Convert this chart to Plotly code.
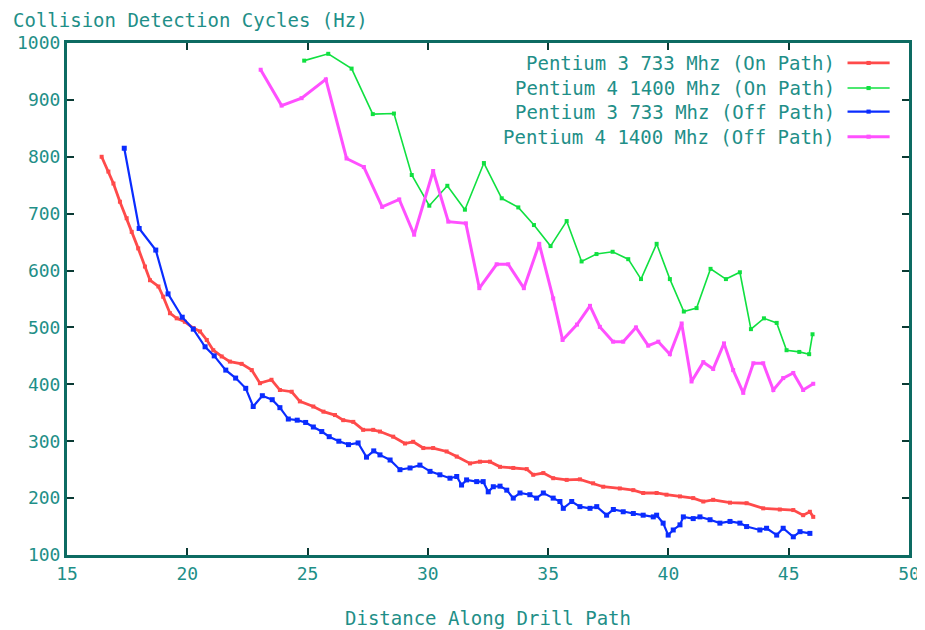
import plotly.graph_objects as go

# ---------------- data ----------------
p3_on_x = [16.44, 16.72, 16.93, 17.2, 17.48, 17.69, 17.96, 18.24, 18.45, 18.8, 19.0, 19.28, 19.56, 19.9,
           20.25, 20.53, 20.81, 21.08, 21.43, 21.77, 22.26, 22.68, 23.02, 23.5, 23.85, 24.34, 24.68,
           25.24, 25.66, 26.14, 26.48, 26.9, 27.31, 27.73, 28.01, 28.56, 29.05, 29.39, 29.81, 30.22,
           30.78, 31.2, 31.75, 32.17, 32.58, 33.0, 33.55, 34.11, 34.38, 34.8, 35.21, 35.77, 36.32,
           36.87, 37.29, 37.98, 38.54, 38.95, 39.51, 39.92, 40.48, 41.03, 41.45, 41.86, 42.56, 43.25,
           43.94, 44.63, 45.19, 45.6, 45.88, 46.02]
p3_on_y = [800, 774, 753, 721, 692, 668, 639, 607, 583, 572, 554, 525, 516, 510,
           499, 493, 478, 460, 449, 440, 436, 425, 402, 408, 390, 387, 370,
           361, 352, 346, 337, 334, 320, 320, 317, 308, 296, 299, 288, 288,
           282, 273, 261, 264, 264, 255, 253, 251, 241, 244, 235, 232, 233,
           226, 220, 217, 214, 209, 209, 206, 203, 200, 194, 197, 192, 191,
           182, 180, 179, 170, 176, 167]

p4_on_x = [24.86, 25.86, 26.83, 27.71, 28.59, 29.33, 30.06, 30.81, 31.54, 32.33, 33.07, 33.76, 34.41,
           35.1, 35.77, 36.39, 37.01, 37.68, 38.33, 38.86, 39.51, 40.06, 40.64, 41.17, 41.75, 42.39,
           42.97, 43.43, 43.97, 44.5, 44.91, 45.44, 45.85, 45.99]
p4_on_y = [969, 981, 955, 875, 876, 768, 714, 749, 707, 789, 727, 711, 680,
           643, 687, 616, 629, 633, 620, 585, 647, 585, 528, 534, 603, 585,
           597, 497, 516, 508, 460, 457, 453, 488]

p3_off_x = [17.38, 18.0, 18.69, 19.2, 19.79, 20.25, 20.74, 21.12, 21.6, 22.01, 22.43, 22.74, 23.12,
            23.53, 23.85, 24.2, 24.57, 24.92, 25.24, 25.59, 25.9, 26.3, 26.7, 27.1, 27.45, 27.75,
            28.01, 28.43, 28.84, 29.26, 29.67, 30.09, 30.5, 30.92, 31.2, 31.4, 31.61, 32.03, 32.3,
            32.51, 32.72, 33.0, 33.28, 33.55, 33.83, 34.24, 34.52, 34.8, 35.21, 35.49, 35.63, 35.98,
            36.32, 36.74, 37.02, 37.43, 37.71, 38.12, 38.54, 38.95, 39.37, 39.51, 39.78, 39.99, 40.2,
            40.48, 40.62, 41.03, 41.31, 41.73, 42.14, 42.56, 42.97, 43.25, 43.8, 44.08, 44.5, 44.77,
            45.19, 45.47, 45.88]
p3_off_y = [815, 674, 636, 559, 518, 497, 466, 450, 425, 411, 393, 361, 380,
            373, 359, 339, 337, 333, 325, 317, 308, 300, 294, 297, 272, 283,
            276, 267, 250, 253, 258, 247, 241, 235, 238, 223, 232, 229, 229,
            211, 220, 221, 214, 200, 209, 206, 200, 209, 200, 194, 182, 194,
            185, 182, 185, 170, 180, 176, 173, 170, 167, 170, 156, 135, 144,
            153, 167, 164, 167, 162, 156, 159, 156, 150, 144, 147, 135, 147,
            132, 141, 138]

p4_off_x = [23.05, 23.92, 24.75, 25.76, 26.62, 27.34, 28.1, 28.81, 29.43, 30.22, 30.85, 31.58, 32.14,
            32.86, 33.34, 33.99, 34.63, 35.21, 35.6, 36.2, 36.74, 37.15, 37.7, 38.12, 38.65, 39.16,
            39.58, 40.06, 40.55, 40.96, 41.45, 41.86, 42.31, 42.69, 43.11, 43.53, 43.94, 44.36, 44.77,
            45.19, 45.6, 46.02]
p4_off_y = [953, 890, 903, 936, 797, 782, 712, 725, 663, 775, 686, 683, 569,
            611, 611, 569, 647, 551, 478, 505, 538, 501, 475, 475, 500, 468,
            475, 453, 507, 405, 439, 427, 472, 425, 385, 437, 437, 390, 411,
            420, 390, 401]

series_names = ["Pentium 3 733 Mhz (On Path)", "Pentium 4 1400 Mhz (On Path)",
                "Pentium 3 733 Mhz (Off Path)", "Pentium 4 1400 Mhz (Off Path)"]
x_ticks = [15, 20, 25, 30, 35, 40, 45, 50]
y_ticks = [100, 200, 300, 400, 500, 600, 700, 800, 900, 1000]

# ---------------- style ----------------
colors = ["#ff4a4a", "#10e040", "#0a2cff", "#ff50ff"]
widths = [2.8, 1.6, 2.2, 3.0]
msizes = [4, 4, 5, 4]
TEXT = "#1f8f88"
FRAME = "#0d6b62"
FONT = "DejaVu Sans Mono"

fig = go.Figure()
data = [(p3_on_x, p3_on_y), (p4_on_x, p4_on_y), (p3_off_x, p3_off_y), (p4_off_x, p4_off_y)]
for (xs, ys), name, c, w, m in zip(data, series_names, colors, widths, msizes):
    fig.add_trace(go.Scatter(x=xs, y=ys, name=name, mode="lines+markers",
                             line=dict(color=c, width=w),
                             marker=dict(color=c, size=m, symbol="square"),
                             showlegend=False))

axis_common = dict(showgrid=False, zeroline=False, showline=True, linecolor=FRAME, linewidth=3,
                   mirror="allticks", ticks="inside", ticklen=7, tickwidth=2, tickcolor="#0a3a34",
                   automargin=False,
                   tickfont=dict(family=FONT, size=18, color=TEXT))

# the page body adds an 8 px offset, so the figure is 8 px smaller and margins shifted
fig.update_layout(
    width=917, height=622,
    margin=dict(l=59, r=16, t=35, b=75, autoexpand=False),
    paper_bgcolor="white", plot_bgcolor="white",
    font=dict(family=FONT, size=18, color=TEXT),
    xaxis=dict(range=[15, 50], tickvals=x_ticks, ticktext=[str(v) for v in x_ticks], **axis_common),
    yaxis=dict(range=[100, 1000], tickvals=y_ticks, ticktext=[str(v) for v in y_ticks], **axis_common),
    showlegend=False,
)

# axis titles as gnuplot-like text
fig.add_annotation(text="Collision Detection Cycles (Hz)", xref="paper", yref="paper",
                   x=-0.065, y=1.0, xanchor="left", yanchor="middle", yshift=23, borderpad=0,
                   showarrow=False, font=dict(family=FONT, size=19, color=TEXT))
fig.add_annotation(text="Distance Along Drill Path", xref="paper", yref="paper",
                   x=0.5, y=0, xanchor="center", yanchor="middle", yshift=-63, borderpad=0,
                   showarrow=False, font=dict(family=FONT, size=19, color=TEXT))

# gnuplot-style key: text right-aligned, sample on the right
key_rows = [0.961, 0.912, 0.866, 0.817]
for name, c, w, ky in zip(series_names, colors, widths, key_rows):
    fig.add_annotation(text=name, xref="paper", yref="paper", x=0.915, y=ky,
                       xanchor="right", yanchor="middle", showarrow=False,
                       font=dict(family=FONT, size=19, color=TEXT))
    fig.add_shape(type="line", xref="paper", yref="paper", x0=0.927, x1=0.977, y0=ky, y1=ky,
                  line=dict(color=c, width=w))
    fig.add_shape(type="rect", xref="paper", yref="paper", x0=0.9495, x1=0.9545,
                  y0=ky - 0.004, y1=ky + 0.004, line=dict(width=0), fillcolor=c)

fig.write_html("out.html")
